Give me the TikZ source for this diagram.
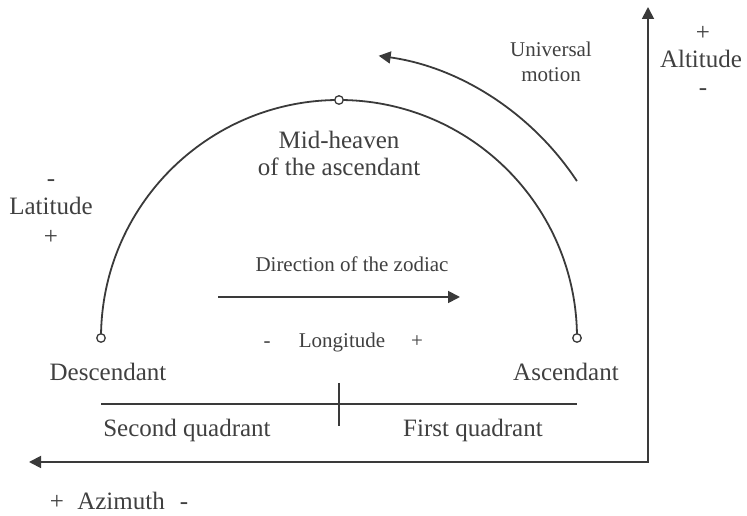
\documentclass[tikz,border=0pt]{standalone}
\usepackage{fontspec}
\setmainfont{Liberation Serif}
\usepackage{xcolor}
\definecolor{colLine}{HTML}{3A3A3A}
\definecolor{colText}{HTML}{404040}
\usetikzlibrary{arrows.meta}

\begin{document}
\begin{tikzpicture}[x=1pt, y=1pt, line width=1.8pt, colLine,
	lblbig/.style={font=\fontsize{25}{30}\selectfont, text=colText, inner sep=0pt},
	lblsmall/.style={font=\fontsize{21}{25}\selectfont, text=colText, inner sep=0pt},
	endpt/.style={circle, draw=colLine, fill=white, line width=1.3pt, inner sep=0pt, minimum size=8.5pt},
	arr/.style={-{Triangle[length=12pt, width=12pt]}}]
	\useasboundingbox (0,0) rectangle (747,516);
	\coordinate (cen) at (339,178);
	\coordinate (desc) at (101,178);
	\coordinate (asc) at (577,178);
	\coordinate (mid) at (339,416);
	\draw (desc) arc (180:0:238);
	\node[endpt] (descpt) at (desc) {};
	\node[endpt] (ascpt) at (asc) {};
	\node[endpt] (midpt) at (mid) {};
	\draw[arr] ([shift={(33.4:285)}]cen) arc (33.4:82:285);
	\coordinate (zodS) at (218,219);
	\coordinate (zodE) at (460,219);
	\draw[arr] (zodS) -- (zodE);
	\coordinate (quadL) at (101,112);
	\coordinate (quadR) at (577,112);
	\coordinate (tickT) at (339,133);
	\coordinate (tickB) at (339,90);
	\draw (quadL) -- (quadR);
	\draw (tickT) -- (tickB);
	\coordinate (corner) at (648,54);
	\coordinate (aziEnd) at (29,54);
	\coordinate (altEnd) at (648,509);
	\draw[{Triangle[length=12pt, width=12pt]}-{Triangle[length=12pt, width=12pt]}, line join=miter] (aziEnd) -- (corner) -- (altEnd);
	\node[lblbig, anchor=base] (descLbl) at (108,135) {Descendant};
	\node[lblbig, anchor=base] (ascLbl) at (566,135) {Ascendant};
	\node[lblbig, anchor=base] (midLblA) at (339,367) {Mid-heaven};
	\node[lblbig, anchor=base] (midLblB) at (339,340) {of the ascendant};
	\node[lblsmall, anchor=base] (zodLbl) at (352,244) {Direction of the zodiac};
	\node[lblsmall, anchor=base] (lonMinus) at (267,168) {-};
	\node[lblsmall, anchor=base] (lonLbl) at (342,168) {Longitude};
	\node[lblsmall, anchor=base] (lonPlus) at (417,168) {+};
	\node[lblbig, anchor=base] (secLbl) at (187,79) {Second quadrant};
	\node[lblbig, anchor=base] (firLbl) at (473,79) {First quadrant};
	\node[lblbig, anchor=base] (aziPlus) at (57,6) {+};
	\node[lblbig, anchor=base] (aziLbl) at (121,6) {Azimuth};
	\node[lblbig, anchor=base] (aziMinus) at (184,6) {-};
	\node[lblbig] (latMinus) at (51,333) {-};
	\node[lblbig, anchor=base] (latLbl) at (51,301) {Latitude};
	\node[lblbig] (latPlus) at (51,279) {+};
	\node[lblsmall, anchor=base] (uniLblA) at (551,459) {Universal};
	\node[lblsmall, anchor=base] (uniLblB) at (551,434) {motion};
	\node[lblbig] (altPlus) at (703,483) {+};
	\node[lblbig, anchor=base] (altLbl) at (701,448) {Altitude};
	\node[lblbig] (altMinus) at (703,424) {-};
\end{tikzpicture}
\end{document}
